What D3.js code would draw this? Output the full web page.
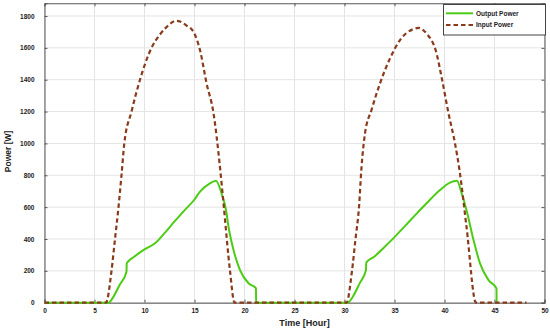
<!DOCTYPE html>
<html>
<head>
<meta charset="utf-8">
<script src="https://cdn.jsdelivr.net/npm/d3@7"></script>
<style>
html,body{margin:0;padding:0;background:#fff;}
svg{display:block;font-family:"Liberation Sans",Arial,sans-serif;}
</style>
</head>
<body>
<svg id="chart" width="550" height="332"></svg>
<script>
// ---- data ----
const xTicks = [0,5,10,15,20,25,30,35,40,45,50];
const yTicks = [0,200,400,600,800,1000,1200,1400,1600,1800];

const inputTime  = [0,6.15,6.7,7.05,7.4,7.7,7.98,8.7,9.55,10.7,11.5,12.2,13.2,13.55,14.2,14.9,15.55,16.2,16.9,17.5,17.9,18.55,19.0,
                    30.2,30.75,31.1,31.45,31.7,32.05,32.7,33.55,34.55,35.55,36.9,37.4,38.2,39.2,39.7,40.4,41.05,41.5,42.2,43.15,48.2];
const inputPower = [0,0,200,400,600,800,1000,1200,1400,1600,1680,1730,1770,1765,1740,1700,1586,1379,1190,880,624,200,0,
                    0,200,400,600,850,1063,1210,1377,1534,1649,1718,1725,1690,1566,1419,1189,1000,833,477,0,0];

const outputTime  = [0,6.4,6.9,7.5,8.2,8.22,9.0,10.0,11.05,12.05,13.0,14.0,15.0,15.55,16.5,17.15,17.7,18.15,18.4,18.9,19.55,20.4,21.15,21.16,
                     30.3,30.9,31.5,32.15,32.17,33.0,34.0,35.0,36.0,37.0,38.2,39.55,40.5,41.25,41.7,42.2,42.9,43.55,44.4,45.2,45.21];
const outputPower = [0,0,38,110,195,247,290,335,373,440,510,580,648,697,748,766,687,582,477,331,205,122,90,0,
                     0,45,120,205,251,290,350,412,478,545,624,707,752,766,690,582,394,247,142,90,0];

const seriesNames = ["Output Power","Input Power"];

// ---- layout ----
const svg = d3.select("#chart");
const x = d3.scaleLinear().domain([0,50]).range([44.5,544.5]);
const y = d3.scaleLinear().domain([0,1880]).range([302.7,3.25]);
const x0 = x.range()[0], x1 = x.range()[1], y0 = y.range()[0], y1 = y.range()[1];

// grid
const grid = svg.append("g").attr("stroke","#e4e4e4").attr("stroke-width",1);
xTicks.forEach(t=>grid.append("line").attr("x1",x(t)).attr("x2",x(t)).attr("y1",y0).attr("y2",y1));
yTicks.forEach(t=>grid.append("line").attr("x1",x0).attr("x2",x1).attr("y1",y(t)).attr("y2",y(t)));

// axes (ticks inward)
const fmt = d3.format("d");
const gB = svg.append("g").attr("transform",`translate(0,${y0})`)
  .call(d3.axisBottom(x).tickValues(xTicks).tickSize(-3).tickPadding(6).tickFormat(fmt));
const gT = svg.append("g").attr("transform",`translate(0,${y1})`)
  .call(d3.axisTop(x).tickValues(xTicks).tickSize(-3).tickFormat(""));
const gL = svg.append("g").attr("transform",`translate(${x0},0)`)
  .call(d3.axisLeft(y).tickValues(yTicks).tickSize(-3).tickPadding(10).tickFormat(fmt));
const gR = svg.append("g").attr("transform",`translate(${x1},0)`)
  .call(d3.axisRight(y).tickValues(yTicks).tickSize(-3).tickFormat(""));
[gB,gT,gL,gR].forEach(g=>{
  g.select(".domain").attr("stroke","#555").attr("stroke-width",1);
  g.selectAll(".tick line").attr("stroke","#555");
  g.selectAll("text").attr("font-size",6.5).attr("font-weight","bold").attr("fill","#222")
   .attr("font-family","'Liberation Sans',Arial,sans-serif");
});
gB.select(".domain").attr("stroke","#888").attr("stroke-width",1.5);

// lines
const line = d3.line().x(d=>x(d[0])).y(d=>y(d[1])).curve(d3.curveMonotoneX);
const outData = outputTime.map((t,i)=>[t,outputPower[i]]);
const inData  = inputTime.map((t,i)=>[t,inputPower[i]]);

svg.append("path").datum(outData).attr("d",line)
  .attr("fill","none").attr("stroke","#4ccc14").attr("stroke-width",2).attr("stroke-linejoin","round");
svg.append("path").datum(inData).attr("d",line)
  .attr("fill","none").attr("stroke","#8a3b1b").attr("stroke-width",2.2)
  .attr("stroke-dasharray","4.5,3");

// axis labels
svg.append("text").attr("x",x(26)).attr("y",326).attr("text-anchor","middle")
  .attr("font-size",9).attr("font-weight","bold").attr("fill","#222").text("Time [Hour]");
svg.append("text").attr("transform",`translate(11,${y(950)}) rotate(-90)`).attr("text-anchor","middle")
  .attr("font-size",8.5).attr("font-weight","bold").attr("fill","#222").text("Power [W]");

// legend
const lg = svg.append("g");
lg.append("rect").attr("x",443.5).attr("y",4.5).attr("width",102).attr("height",30.5)
  .attr("fill","#fff").attr("stroke","#444").attr("stroke-width",1);
lg.append("line").attr("x1",446).attr("x2",473).attr("y1",13.3).attr("y2",13.3)
  .attr("stroke","#4ccc14").attr("stroke-width",2);
lg.append("line").attr("x1",446).attr("x2",473).attr("y1",25).attr("y2",25)
  .attr("stroke","#8a3b1b").attr("stroke-width",2.2).attr("stroke-dasharray","4.5,3");
lg.append("text").attr("x",476).attr("y",15.6).attr("font-size",6.5).attr("font-weight","bold").attr("fill","#222").text(seriesNames[0]);
lg.append("text").attr("x",476).attr("y",27.3).attr("font-size",6.5).attr("font-weight","bold").attr("fill","#222").text(seriesNames[1]);
</script>
</body>
</html>
